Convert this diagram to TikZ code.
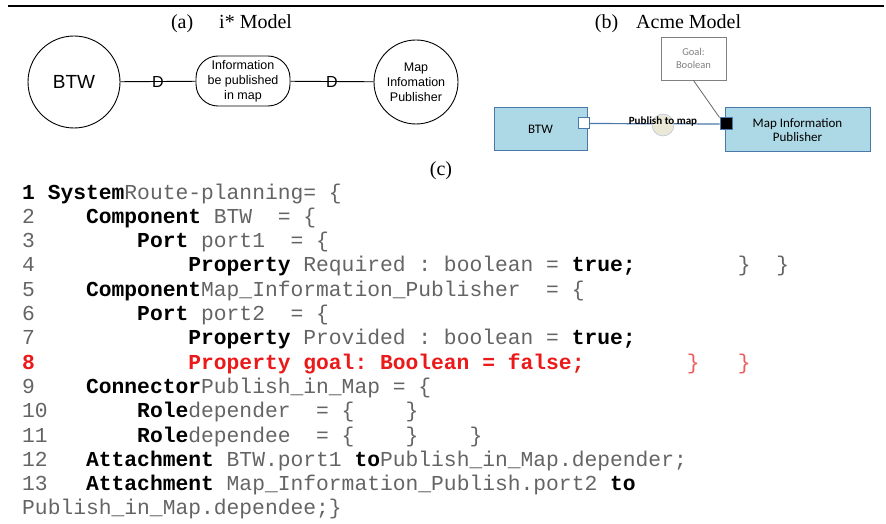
\documentclass[tikz,border=0pt]{standalone}
\usepackage{fontspec}
\setmainfont{Liberation Serif}
\newfontfamily\arialf{Liberation Sans}
\newfontfamily\calf{Carlito}
\newfontfamily\codef{Liberation Mono}
\definecolor{codegray}{RGB}{100,100,100}
\definecolor{codered}{RGB}{235,25,25}
\definecolor{bracered}{RGB}{240,90,90}
\definecolor{acmefill}{RGB}{173,216,230}
\definecolor{acmeline}{RGB}{75,120,170}
\definecolor{connfill}{RGB}{236,232,215}
\newcommand{\kw}[1]{{\bfseries\color{black}#1}}
\tikzset{
  title/.style={font=\fontsize{20}{22}\selectfont, inner sep=0pt},
  actor/.style={circle, draw, line width=0.9pt, inner sep=0pt, align=center},
  goalshape/.style={draw, line width=0.9pt, rounded corners=22pt, minimum width=94pt, minimum height=50pt, inner sep=0pt, align=center, font=\arialf\fontsize{12.5}{15}\selectfont},
  dep/.style={font=\arialf\fontsize{16}{16}\selectfont, inner sep=0pt},
  acmebox/.style={draw=acmeline, fill=acmefill, line width=1pt, inner sep=0pt, align=center, font=\calf\fontsize{13}{13.5}\selectfont},
  portbox/.style={draw=acmeline, line width=1pt, minimum size=11pt, inner sep=0pt},
  codeline/.style={anchor=base west, inner sep=0pt, text=codegray, font=\codef\fontsize{21.3}{24}\selectfont}
}
\begin{document}
\begin{tikzpicture}[x=1pt,y=-1pt]
\useasboundingbox (0,0) rectangle (886,524);
\draw[line width=1.3pt] (8,6) -- (884,6);

% titles
\node[title] (ta) at (231.5,24) {(a)\hspace{26pt}i* Model};
\node[title] (tb) at (668,24) {(b)\hspace{18pt}Acme Model};
\node[title] (tc) at (441,171) {(c)};

% (a) i* model
\node[actor, minimum size=92pt, font=\arialf\fontsize{19}{20}\selectfont] (btw) at (74,82) {BTW};
\node[goalshape] (info) at (243,81) {Information\\be published\\in map};
\node[actor, minimum size=84pt, font=\arialf\fontsize{12.5}{15}\selectfont] (mip) at (416,82) {Map\\Infomation\\Publisher};
\draw[line width=0.9pt] (btw) -- (info) node[dep, midway] {D};
\draw[line width=0.9pt] (info) -- (mip) node[dep, midway] {D};

% (b) Acme model
\node[acmebox, minimum width=93pt, minimum height=43pt] (abtw) at (540.5,129.5) {BTW};
\node[acmebox, minimum width=145pt, minimum height=44pt] (amip) at (797.5,130) {Map Information\\Publisher};
\node[portbox, fill=white] (p1) at (583.5,123.5) {};
\node[portbox, fill=black, minimum size=12pt] (p2) at (726,124) {};
\draw[acmeline, line width=1.2pt] (p1) -- (p2);
\node[circle, draw=acmeline!50, fill=connfill, minimum size=22pt, inner sep=0pt] (cc) at (663,125) {};
\node[inner sep=0pt, font=\calf\bfseries\fontsize{11}{12}\selectfont] (cl) at (663,122) {Publish to map};
\node[draw=gray, line width=0.9pt, fill=white, minimum width=65pt, minimum height=43pt, inner sep=0pt, align=center, text=gray, font=\calf\fontsize{10.5}{13}\selectfont] (goal) at (693.5,58.5) {Goal:\\Boolean};
\draw[gray!80!black, line width=0.8pt] (goal.south) -- (p2.north west);

% (c) code
\node[codeline] (l1) at (22,199) {\kw{1 System}Route-planning=~\{};
\node[codeline] (l2) at (22,223.3) {2~~~~\kw{Component}~BTW~~=~\{};
\node[codeline] (l3) at (22,247.6) {3~~~~~~~~\kw{Port}~port1~~=~\{};
\node[codeline] (l4) at (22,271.9) {4~~~~~~~~~~~~\kw{Property}~Required~:~boolean~=~\kw{true;}~~~~~~~~\}~~\}};
\node[codeline] (l5) at (22,296.2) {5~~~~\kw{Component}Map\_Information\_Publisher~~=~\{};
\node[codeline] (l6) at (22,320.5) {6~~~~~~~~\kw{Port}~port2~~=~\{};
\node[codeline] (l7) at (22,344.8) {7~~~~~~~~~~~~\kw{Property}~Provided~:~boolean~=~\kw{true;}};
\node[codeline, text=codered] (l8) at (22,369.1) {{\bfseries 8~~~~~~~~~~~~Property~goal:~Boolean~=~false;}~~~~~~~~{\color{bracered}\}~~~\}}};
\node[codeline] (l9) at (22,393.4) {9~~~~\kw{Connector}Publish\_in\_Map~=~\{};
\node[codeline] (l10) at (22,417.7) {10~~~~~~~\kw{Role}depender~~=~\{~~~~\}};
\node[codeline] (l11) at (22,442) {11~~~~~~~\kw{Role}dependee~~=~\{~~~~\}~~~~\}};
\node[codeline] (l12) at (22,466.3) {12~~~\kw{Attachment}~BTW.port1~\kw{to}Publish\_in\_Map.depender;};
\node[codeline] (l13) at (22,490.6) {13~~~\kw{Attachment}~Map\_Information\_Publish.port2~\kw{to}};
\node[codeline] (l14) at (22,514.9) {Publish\_in\_Map.dependee;\}};
\end{tikzpicture}
\end{document}
